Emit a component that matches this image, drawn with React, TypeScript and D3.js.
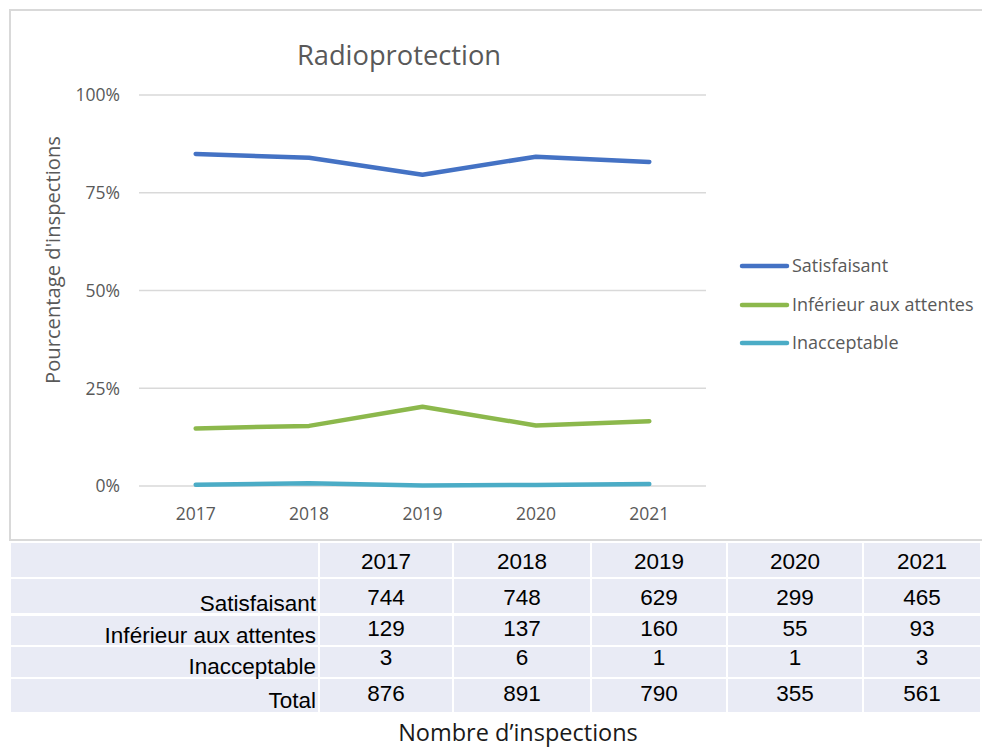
import React from "react";
import * as d3 from "d3";

const years = ["2017", "2018", "2019", "2020", "2021"];
const seriesNames = ["Satisfaisant", "Inférieur aux attentes", "Inacceptable"];
const satisfaisant = [744, 748, 629, 299, 465];
const inferieur = [129, 137, 160, 55, 93];
const inacceptable = [3, 6, 1, 1, 3];
const totals = [876, 891, 790, 355, 561];
const yTicks = [0, 0.25, 0.5, 0.75, 1];
const colors = ["#4472C4", "#8CB84C", "#4BACC6"];

const W = 982;
const H = 749;
const FONT = "'Open Sans', 'Noto Sans', sans-serif";
const TFONT = "'Liberation Sans', Arial, sans-serif";

export default function App() {
  const counts = [satisfaisant, inferieur, inacceptable];
  const x = d3.scalePoint<string>().domain(years).range([139, 706]).padding(0.5);
  const y = d3.scaleLinear().domain([0, 1]).range([486, 95]);
  const line = d3
    .line<number>()
    .x((_, i) => x(years[i]) as number)
    .y((d) => y(d));
  const pct = counts.map((arr) => arr.map((v, i) => v / totals[i]));
  const fmt = d3.format(".0%");

  const legendY = [266, 305, 343];

  // table layout
  const colEdges = [11, 320, 454, 592, 728, 864, 982];
  const rowEdges = [
    [543, 577],
    [579, 613],
    [616, 645],
    [647, 677],
    [679, 712],
  ];
  const valueBase = [569, 605, 636, 665, 701];
  const labelBase = [0, 611, 643, 674, 708];
  const rowLabels = ["", ...seriesNames, "Total"];
  const rowValues = [years, satisfaisant, inferieur, inacceptable, totals];

  return (
    <svg
      width={W}
      height={H}
      style={{ position: "absolute", left: 0, top: 0, background: "#fff" }}
    >
      {/* chart frame */}
      <rect x={10} y={10} width={1000} height={530} fill="#fff" stroke="#d9d9d9" strokeWidth={2} />
      <text x={399} y={65} textAnchor="middle" fontFamily={FONT} fontSize={27.3} fill="#595959">
        Radioprotection
      </text>
      {/* gridlines */}
      {yTicks.map((t) => (
        <g key={t}>
          <line x1={139} x2={706} y1={y(t)} y2={y(t)} stroke="#d9d9d9" strokeWidth={1.5} />
          <text
            x={120}
            y={y(t)}
            dy="0.36em"
            textAnchor="end"
            fontFamily={FONT}
            fontSize={17.5}
            fill="#595959"
          >
            {fmt(t)}
          </text>
        </g>
      ))}
      {years.map((yr) => (
        <text
          key={yr}
          x={x(yr)}
          y={520}
          textAnchor="middle"
          fontFamily={FONT}
          fontSize={17.5}
          fill="#595959"
        >
          {yr}
        </text>
      ))}
      <text
        transform="translate(60,260) rotate(-90)"
        textAnchor="middle"
        fontFamily={FONT}
        fontSize={20.2}
        fill="#595959"
      >
        Pourcentage d'inspections
      </text>
      {/* lines */}
      {pct.map((p, i) => (
        <path
          key={i}
          d={line(p) || ""}
          fill="none"
          stroke={colors[i]}
          strokeWidth={4.5}
          strokeLinejoin="round"
          strokeLinecap="round"
        />
      ))}
      {/* legend */}
      {seriesNames.map((n, i) => (
        <g key={n}>
          <line
            x1={742}
            x2={787}
            y1={legendY[i]}
            y2={legendY[i]}
            stroke={colors[i]}
            strokeWidth={4.5}
            strokeLinecap="round"
          />
          <text
            x={792}
            y={legendY[i]}
            dy="0.36em"
            fontFamily={FONT}
            fontSize={18}
            fill="#595959"
          >
            {n}
          </text>
        </g>
      ))}
      {/* table */}
      {rowEdges.map(([top, bottom], r) => (
        <g key={r}>
          {colEdges.slice(0, -1).map((cx, c) => (
            <rect
              key={c}
              x={cx}
              y={top}
              width={colEdges[c + 1] - cx - 2}
              height={bottom - top}
              fill="#E9EBF5"
            />
          ))}
          {r > 0 && (
            <text
              x={316}
              y={labelBase[r]}
              textAnchor="end"
              fontFamily={TFONT}
              fontSize={22.5}
              fill="#000"
            >
              {rowLabels[r]}
            </text>
          )}
          {rowValues[r].map((v, c) => (
            <text
              key={c}
              x={(colEdges[c + 1] + colEdges[c + 2] - 2) / 2}
              y={valueBase[r]}
              textAnchor="middle"
              fontFamily={TFONT}
              fontSize={22.5}
              fill="#000"
            >
              {v}
            </text>
          ))}
        </g>
      ))}
      <text x={518} y={741} textAnchor="middle" fontFamily={FONT} fontSize={23.5} fill="#1a1a1a">
        Nombre d’inspections
      </text>
    </svg>
  );
}
